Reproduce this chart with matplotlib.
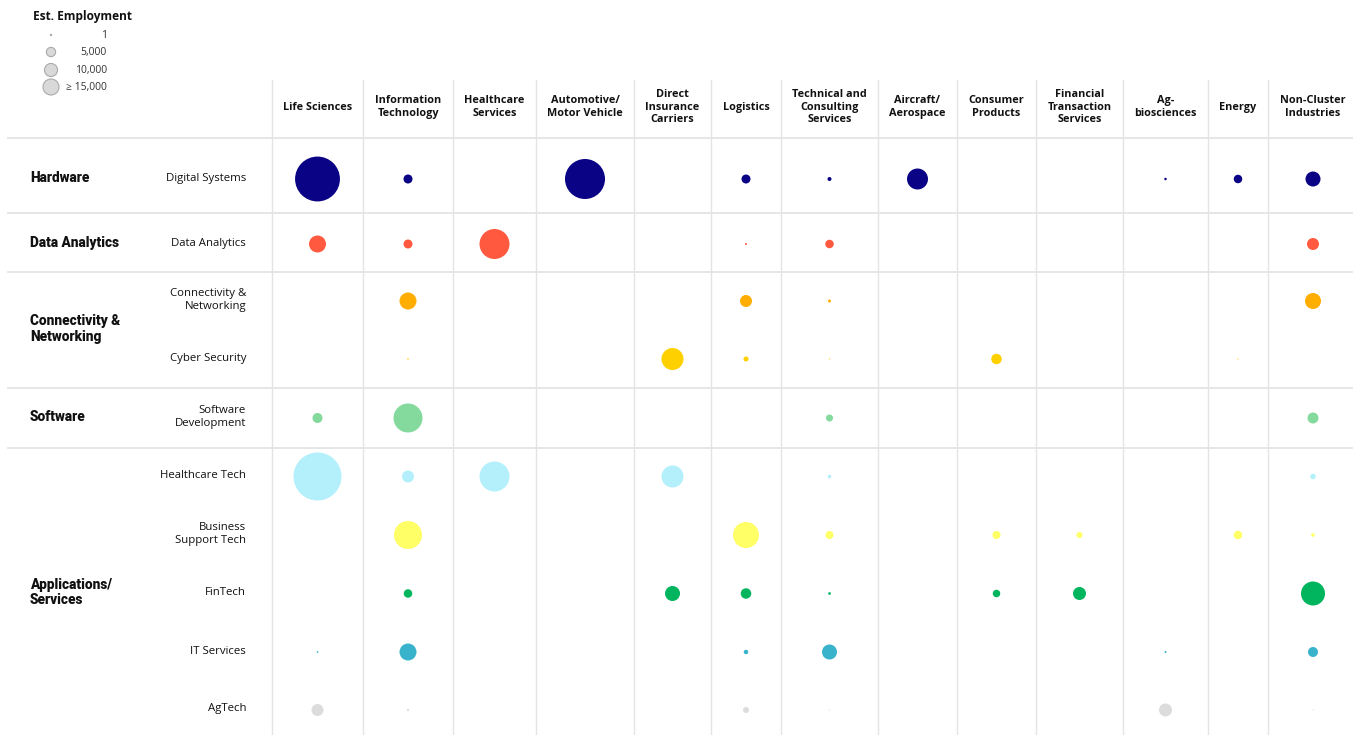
import numpy as np
import matplotlib.pyplot as plt

nan = np.nan

industries = ['Life Sciences', 'Information\nTechnology', 'Healthcare\nServices',
              'Automotive/\nMotor Vehicle', 'Direct\nInsurance\nCarriers', 'Logistics',
              'Technical and\nConsulting\nServices', 'Aircraft/\nAerospace', 'Consumer\nProducts',
              'Financial\nTransaction\nServices', 'Ag-\nbiosciences', 'Energy',
              'Non-Cluster\nIndustries']

segments = ['Digital Systems', 'Data Analytics', 'Connectivity &\nNetworking', 'Cyber Security',
            'Software\nDevelopment', 'Healthcare Tech', 'Business\nSupport Tech', 'FinTech',
            'IT Services', 'AgTech']

groups = ['Hardware', 'Data Analytics', 'Connectivity &\nNetworking', 'Software',
          'Applications/\nServices']
group_rows = [(0, 0), (1, 1), (2, 3), (4, 4), (5, 9)]

# estimated employment, one row per segment, one column per industry
digital_systems = [118000, 4750, nan, 93800, nan, 4750, 940, 25800, nan, nan, 370, 4230, 13200]
data_analytics = [16900, 4750, 52700, nan, nan, 230, 4230, nan, nan, nan, nan, nan, 8440]
connectivity = [nan, 16900, nan, nan, nan, 8440, 530, nan, nan, nan, nan, nan, 15000]
cyber_security = [nan, 130, nan, nan, 28400, 1470, 60, nan, 6460, nan, nan, 60, nan]
software_dev = [5860, 49300, nan, nan, nan, nan, 2870, nan, nan, nan, nan, nan, 7090]
healthcare_tech = [135000, 8440, 52700, nan, 28400, nan, 720, nan, nan, nan, nan, nan, 1770]
business_support = [nan, 45900, nan, nan, nan, 39600, 3750, nan, 3750, 2110, nan, 4230, 720]
fintech = [nan, 4230, nan, nan, 13200, 6460, 430, nan, 3300, 9900, nan, nan, 33750]
it_services = [170, 16900, nan, nan, nan, 1190, 13200, nan, nan, nan, 230, nan, 5860]
agtech = [8440, 310, nan, nan, nan, 2110, 60, nan, nan, nan, 9900, nan, 60]

employment = np.array([digital_systems, data_analytics, connectivity, cyber_security,
                       software_dev, healthcare_tech, business_support, fintech,
                       it_services, agtech])

legend_values = [1, 5000, 10000, 15000]
legend_labels = ['1', '5,000', '10,000', '\u2265 15,000']

colors = ['#0a0385', '#ff5a3f', '#ffae00', '#ffd000', '#84d99d',
          '#b3f0fc', '#ffff66', '#00b55d', '#38b3cb', '#dcdcdc']

# layout in pixels
W, H = 1354, 735
col_edges = [272, 363, 453, 536, 634, 711, 781, 878, 957, 1036, 1123, 1208, 1268, 1358]
col_x = [(a + b) / 2 for a, b in zip(col_edges[:-1], col_edges[1:])]
row_y = [179, 244, 301, 359, 418, 476.5, 535, 593.5, 652, 710]
h_lines = [138, 213, 272, 388, 447.5]


def size_pts(v):
    # marker area in points^2, area proportional to employment
    d_px = np.maximum(1.2, 16 * np.sqrt(np.asarray(v, dtype=float) / 15000))
    return (d_px * 72 / 100) ** 2


plt.rcParams['font.family'] = ['Open Sans', 'DejaVu Sans']

fig = plt.figure(figsize=(W / 100, H / 100), dpi=100)
ax = fig.add_axes([0, 0, 1, 1])
ax.set_xlim(0, W)
ax.set_ylim(H, 0)
ax.axis('off')

grid_color = '#e4e4e4'
for x in col_edges[:-1]:
    ax.plot([x, x], [80, H], color=grid_color, lw=1.0, zorder=1)
for y in h_lines:
    ax.plot([8, 1352], [y, y], color=grid_color, lw=1.3, zorder=1)

# column headers
for x, name in zip(col_x, industries):
    ax.text(x, 107, name, ha='center', va='center', fontsize=7.8, fontweight='bold',
            color='#111111', linespacing=1.15)

# segment labels
for y, name in zip(row_y, segments):
    ax.text(246, y - 1, name, ha='right', va='center', fontsize=8.2, color='#111111',
            linespacing=1.22)

# group labels
for name, (r0, r1) in zip(groups, group_rows):
    yc = (row_y[r0] + row_y[r1]) / 2
    ax.text(30, yc - 1, name, ha='left', va='center', fontsize=9.8, fontweight='heavy',
            family=['Roboto', 'DejaVu Sans'], color='#111111', linespacing=1.1)

# bubbles
for i in range(len(segments)):
    vals = employment[i]
    mask = ~np.isnan(vals)
    xs = np.array(col_x)[mask]
    ys = np.full(mask.sum(), row_y[i])
    ax.scatter(xs, ys, s=size_pts(vals[mask]), color=colors[i], linewidths=0, zorder=3)

# size legend
ax.text(33, 16, 'Est. Employment', ha='left', va='center', fontsize=8.6,
        fontweight='bold', color='#111111')
leg_y = [35, 52, 70, 87]
ax.scatter([51] * 4, leg_y, s=size_pts(legend_values), color='#d9d9d9',
           edgecolors='#aaaaaa', linewidths=0.8, zorder=3)
for y, lab in zip(leg_y, legend_labels):
    ax.text(107, y, lab, ha='right', va='center', fontsize=7.5, color='#333333')

fig.savefig('out.png', dpi=100)
